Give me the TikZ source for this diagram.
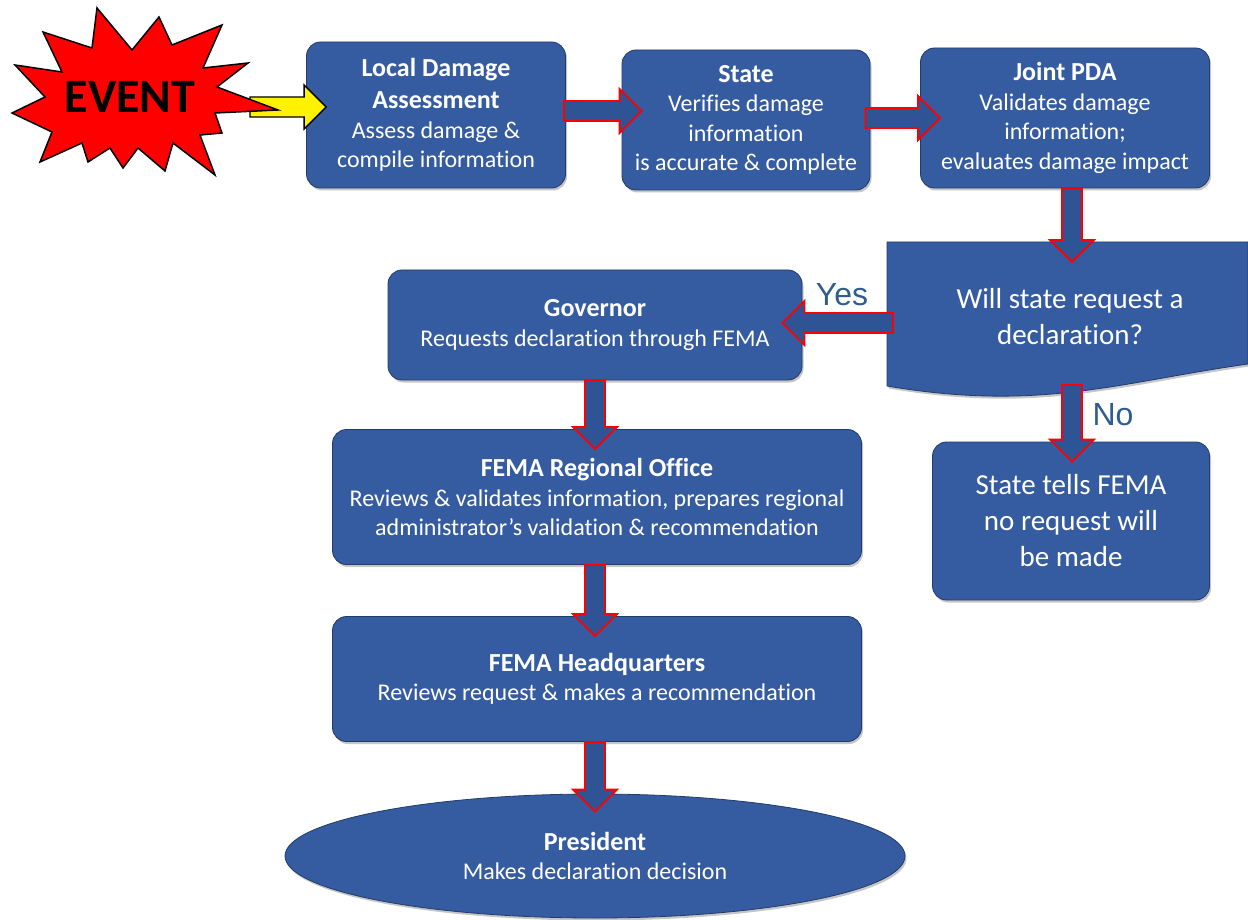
\documentclass[tikz,border=0pt]{standalone}
\usepackage{fontspec}
\setmainfont{Carlito}[Ligatures=NoCommon]
\newfontfamily\labelfont{Liberation Sans}
\usepackage{xcolor}
\definecolor{boxblue}{RGB}{53,92,160}
\definecolor{arrowblue}{RGB}{47,84,150}
\definecolor{labelblue}{RGB}{46,94,145}
\usepackage{tikz}
\usetikzlibrary{calc, shapes.geometric, shadows}
\newcommand{\ttl}[1]{{\fontsize{26}{30}\selectfont\bfseries #1}}
\tikzstyle{stepbox} = [
    rectangle, rounded corners=14pt,
    fill=boxblue, draw=boxblue!65!black, line width=0.8pt,
    text=white, align=center,
    font=\fontsize{24}{29.5}\selectfont,
    drop shadow={shadow xshift=1.5pt, shadow yshift=-2.5pt, opacity=0.45},
]
\tikzstyle{bigtext} = [
    text=white, align=center,
    font=\fontsize{29}{36}\selectfont,
]
\tikzstyle{answer} = [
    text=labelblue,
    font=\labelfont\fontsize{32}{34}\selectfont,
]
\tikzstyle{flow} = [
    draw=red, fill=arrowblue, line width=1.8pt, line join=miter,
    to path={
        let \p1=(\tikztostart), \p2=(\tikztotarget),
            \n1={atan2(\y2-\y1,\x2-\x1)} in
        ($(\p1)+(\n1+90:10pt)$)
        -- ($(\p2)+(\n1+180:22pt)+(\n1+90:10pt)$)
        -- ($(\p2)+(\n1+180:22pt)+(\n1+90:22pt)$)
        -- (\p2)
        -- ($(\p2)+(\n1+180:22pt)+(\n1-90:22pt)$)
        -- ($(\p2)+(\n1+180:22pt)+(\n1-90:10pt)$)
        -- ($(\p1)+(\n1-90:10pt)$) -- cycle
    }
]
\begin{document}
\begin{tikzpicture}[x=1pt, y=-1pt]
    \useasboundingbox (0,0) rectangle (1248,920);

    % boxes
    \node (loc) at (436,115) [stepbox, minimum width=259, minimum height=146]
        {\ttl{Local Damage}\\[3pt]\ttl{Assessment}\\Assess damage \&\\compile information};
    \node (state) at (746,120) [stepbox, minimum width=248, minimum height=140]
        {\ttl{State}\\Verifies damage\\information\\is accurate \& complete};
    \node (pda) at (1065,118) [stepbox, minimum width=289, minimum height=140]
        {\ttl{Joint PDA}\\Validates damage\\information;\\evaluates damage impact};

    % decision (document shape)
    \path [fill=boxblue, draw=boxblue!65!black, line width=0.8pt,
        drop shadow={shadow xshift=1.5pt, shadow yshift=-2.5pt, opacity=0.45}]
        (887,242) -- (1248,242) -- (1248,364)
        .. controls (1120,382) and (1040,412) .. (887,386) -- cycle;
    \node (dec) at (1070,317) [bigtext] {Will state request a\\declaration?};
    \coordinate (dectop) at (1072,242);
    \coordinate (decbot) at (1072,385);
    \coordinate (decleft) at (893,323);

    \node (gov) at (595,325) [stepbox, minimum width=414, minimum height=110]
        {\ttl{Governor}\\Requests declaration through FEMA};
    \node (reg) at (597,497) [stepbox, minimum width=529, minimum height=135]
        {\ttl{FEMA Regional Office}\\Reviews \& validates information, prepares regional\\administrator’s validation \& recommendation};
    \node (hq) at (597,679) [stepbox, minimum width=529, minimum height=125]
        {\ttl{FEMA Headquarters}\\Reviews request \& makes a recommendation};
    \node (pres) at (595,856) [stepbox, ellipse, minimum width=620, minimum height=124]
        {\ttl{President}\\Makes declaration decision};
    \node (nobox) at (1071,521) [stepbox, minimum width=277, minimum height=158,
        font=\fontsize{29}{36}\selectfont]
        {State tells FEMA\\no request will\\be made};

    % event
    \coordinate (evtout) at (250,107);
    \draw [flow, draw=black, fill=yellow, line width=1.3pt]
        (evtout) to ($(loc.west |- evtout)+(20pt,0)$);
    \draw [fill=red, line width=1.5pt, line join=miter]
        (97,8) -- (132,50) -- (159,17) -- (172,45) -- (222,25) -- (203,68)
        -- (248,63) -- (217,87) -- (278,110) -- (215,113) -- (222,133)
        -- (200,135) -- (215,175) -- (173,143) -- (165,171) -- (138,148)
        -- (123,168) -- (110,148) -- (88,162) -- (82,143) -- (40,162)
        -- (52,132) -- (12,113) -- (45,97) -- (15,65) -- (62,72) -- (43,32)
        -- (92,48) -- cycle;
    \node (evt) at (130,97) [font=\fontsize{48}{52}\selectfont\bfseries] {EVENT};

    % arrows
    \draw [flow] ($(loc.east)+(-2pt,4pt)$) to ($(state.west |- loc.east)+(20pt,4pt)$);
    \draw [flow] ($(state.east)+(-5pt,2pt)$) to ($(pda.west |- state.east)+(20pt,2pt)$);
    \draw [flow] (pda.south -| dectop) to ($(dectop)+(0,-20pt)$);
    \draw [flow] (decleft) to ($(gov.east |- decleft)+(-20pt,0)$);
    \draw [flow] (decbot) to ($(nobox.north -| decbot)+(0,-20pt)$);
    \draw [flow] (gov.south) to ($(gov.south |- reg.north)+(0,-20pt)$);
    \draw [flow] (reg.south -| gov.south) to ($(gov.south |- hq.north)+(0,-20pt)$);
    \draw [flow] (hq.south -| gov.south) to ($(gov.south |- pres.north)+(0,-18pt)$);

    % labels
    \node (yes) at (842,295) [answer] {Yes};
    \node (no) at (1113,415) [answer] {No};
\end{tikzpicture}
\end{document}
